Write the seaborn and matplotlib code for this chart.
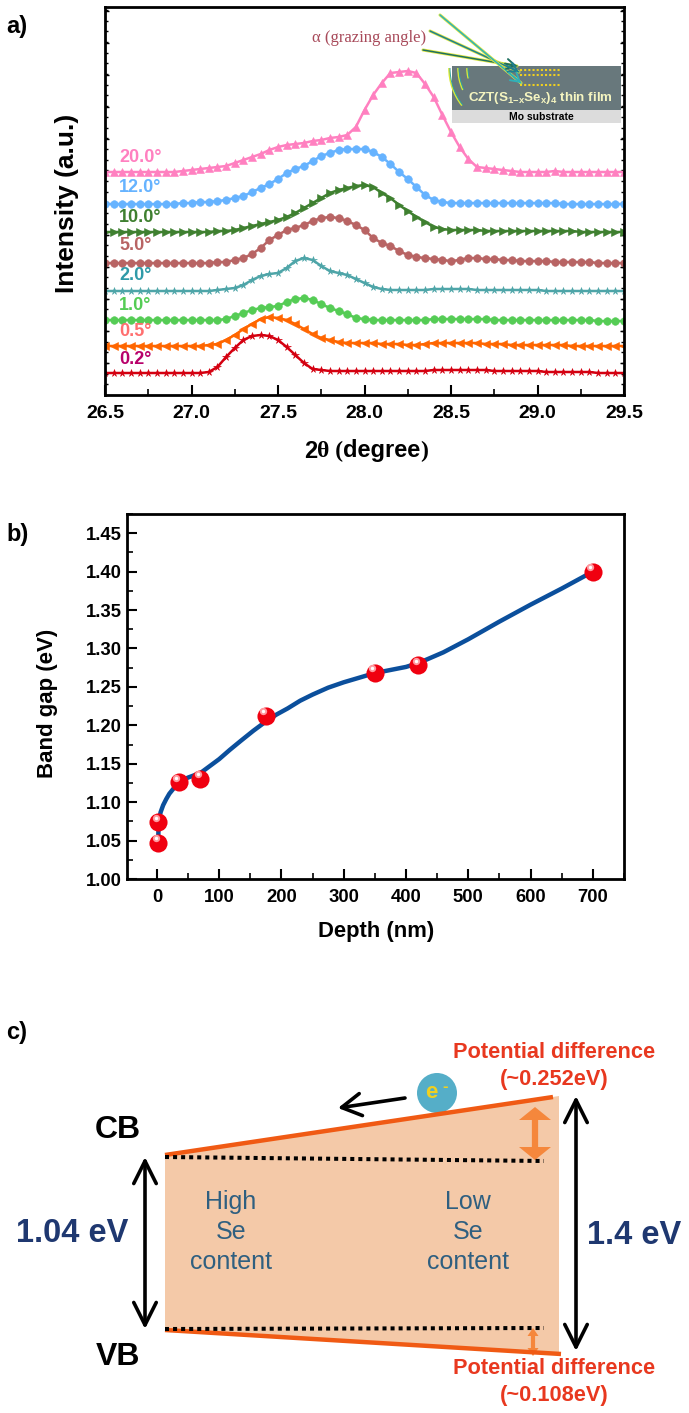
import matplotlib
matplotlib.use('Agg')
import matplotlib.pyplot as plt
from matplotlib.patches import Polygon, Rectangle, Ellipse, Arc
from matplotlib.ticker import MultipleLocator, NullFormatter
import numpy as np
import pandas as pd
import seaborn as sns

two_theta = [26.5 + 0.05 * i for i in range(61)]

i_20 = [223,223,223,223,223,223,223,223,223,224,225,226,227,228,229,232,235,238,241,245,248,250,251,252,254,255,257,258,260,268,
        285,300,312,322,323,324,322,311,298,280,263,248,236,228,227,226,225,224,223,223,223,223,224,223,223,223,223,223,223,223,223]
i_12 = [191,191,191,191,191,191,191,191,191,192,192,193,193,194,195,197,199,203,207,211,216,222,226,229,234,239,242,245,246,246,
        246,243,238,231,223,216,208,200,195,193,192,192,192,192,192,192,192,192,192,192,192,192,192,191,191,191,191,191,191,191,191]
i_10 = [163,163,163,163,163,163,163,163,163,163,163,163,163,164,164,165,167,169,171,173,175,178,182,187,192,197,202,205,207,209,
        210,208,202,197,190,184,178,173,168,166,165,165,165,165,164,164,164,164,164,164,164,164,164,164,164,163,163,163,163,163,163]
i_5 = [132,132,132,132,132,132,132,132,132,132,132,132,132,133,133,135,137,141,147,155,160,165,167,170,174,177,178,177,174,170,
       165,157,152,149,144,140,138,137,136,135,134,135,137,137,136,136,135,135,134,134,134,134,133,133,133,133,133,132,132,132,132]
i_2 = [104,104,104,104,104,104,104,104,104,104,104,104,104,105,106,107,110,115,119,121,122,127,134,137,135,129,124,122,120,116,
       112,108,106,105,105,105,105,105,106,106,106,106,106,105,105,105,105,105,105,105,105,104,104,104,104,104,104,104,104,104,104]
i_1 = [75,75,75,75,75,75,75,75,75,75,75,75,75,75,76,79,82,85,87,88,89,93,96,97,95,91,87,84,81,77,
       76,75,75,75,75,75,75,75,76,76,76,76,76,76,76,75,75,75,75,75,75,75,75,75,75,75,75,74,74,74,74]
i_05 = [49,49,49,49,49,49,49,49,49,49,49,49,50,51,55,60,66,71,76,78,77,75,71,66,61,57,55,53,52,52,
        52,52,51,51,51,50,50,51,52,52,52,52,52,52,51,51,51,50,50,50,50,50,50,50,49,49,49,49,49,49,49]
i_02 = [22,22,22,22,22,22,22,22,22,22,22,22,23,28,38,47,55,59,60,59,55,48,40,32,26,25,24,24,24,24,
        24,24,24,24,24,24,24,24,25,25,25,25,25,25,25,24,24,24,24,24,24,23,23,23,23,23,23,22,22,22,22]

angle_labels = ['20.0', '12.0', '10.0', '5.0', '2.0', '1.0', '0.5', '0.2']
angle_values = [i_20, i_12, i_10, i_5, i_2, i_1, i_05, i_02]
line_colors = ['#ff80c0', '#66b3ff', '#3f8030', '#b86464', '#4ea5a8', '#55cc55', '#ff6600', '#d40010']
label_colors = ['#ff80c0', '#66b3ff', '#3f8030', '#b86464', '#2f9aa8', '#55cc55', '#ff6f6f', '#b8006a']
line_markers = ['^', 'o', '>', 'o', '*', 'o', '<', '*']
label_y = [157, 188, 218, 246, 275, 306, 332, 360]

depth = [2, 3, 6, 10, 15, 20, 27, 35, 42, 50, 60, 70, 85, 100, 117, 135, 155, 175, 192, 210, 230, 250, 275, 300,
         325, 350, 375, 400, 420, 440, 460, 500, 550, 600, 650, 700]
gap_curve = [1.05, 1.075, 1.087, 1.096, 1.104, 1.111, 1.118, 1.124, 1.129, 1.132, 1.135, 1.138, 1.147, 1.156,
             1.168, 1.18, 1.193, 1.205, 1.214, 1.222, 1.232, 1.24, 1.249, 1.256, 1.262, 1.268, 1.272, 1.276,
             1.281, 1.288, 1.295, 1.312, 1.335, 1.357, 1.378, 1.40]
depth_pts = [2, 2, 35, 70, 175, 350, 420, 700]
gap_pts = [1.047, 1.074, 1.126, 1.130, 1.212, 1.268, 1.278, 1.400]

W, H = 689, 1413


def axes_px(fig, left, top, right, bottom):
    return fig.add_axes([left / W, 1 - bottom / H, (right - left) / W, (bottom - top) / H])


def style_axes(ax):
    for s in ax.spines.values():
        s.set_linewidth(2)
        s.set_color('black')
    ax.tick_params(which='major', direction='in', length=7, width=1.5, labelsize=14)
    ax.tick_params(which='minor', direction='in', length=4, width=1.2)
    for t in ax.get_xticklabels() + ax.get_yticklabels():
        t.set_fontweight('bold')


sns.set_style('ticks')
plt.rcParams['font.family'] = ['Liberation Sans', 'DejaVu Sans']
plt.rcParams['text.color'] = 'black'
plt.rcParams['axes.labelcolor'] = 'black'
plt.rcParams['xtick.color'] = 'black'
plt.rcParams['ytick.color'] = 'black'
plt.rcParams['mathtext.fontset'] = 'custom'
plt.rcParams['mathtext.rm'] = 'Liberation Sans:bold'
plt.rcParams['mathtext.bf'] = 'Liberation Sans:bold'

fig = plt.figure(figsize=(W / 100, H / 100), dpi=100)

# a) XRD patterns
ax_a = axes_px(fig, 105, 7, 624, 395)
for name, vals, c, m in zip(angle_labels, angle_values, line_colors, line_markers):
    df = pd.DataFrame({'x': two_theta, 'y': vals})
    sns.lineplot(x='x', y='y', data=df, ax=ax_a, color=c, linewidth=1.8, marker=m,
                 markersize=5.5, markeredgecolor=c, markeredgewidth=0.4)
ax_a.set_xlim(26.5, 29.5)
ax_a.set_ylim(0, 388)
ax_a.xaxis.set_major_locator(MultipleLocator(0.5))
ax_a.xaxis.set_minor_locator(MultipleLocator(0.25))
ax_a.yaxis.set_major_locator(MultipleLocator(32))
ax_a.yaxis.set_minor_locator(MultipleLocator(10.7))
ax_a.yaxis.set_major_formatter(NullFormatter())
ax_a.set_xlabel('')
ax_a.set_ylabel('')
style_axes(ax_a)
ax_a.tick_params(axis='y', which='major', length=3, width=1, right=True)
ax_a.tick_params(axis='y', which='minor', length=2, width=1, right=True)
ax_a.tick_params(axis='x', pad=7)

# b) band gap
ax_b = axes_px(fig, 127, 514, 624, 879)
sns.lineplot(x=depth, y=gap_curve, ax=ax_b, color='#0b4f9c', linewidth=3.2, sort=False, zorder=2)
sns.scatterplot(x=depth_pts, y=gap_pts, ax=ax_b, color='#f00010', s=170, linewidth=0, zorder=3)
ax_b.scatter(np.array(depth_pts) - 4, np.array(gap_pts) + 0.006, s=28, color='#ff9aa0', linewidth=0, zorder=4)
ax_b.scatter(np.array(depth_pts) - 4, np.array(gap_pts) + 0.006, s=6, color='white', linewidth=0, zorder=5)
ax_b.set_xlim(-48, 750)
ax_b.set_ylim(1.0, 1.475)
ax_b.xaxis.set_major_locator(MultipleLocator(100))
ax_b.xaxis.set_minor_locator(MultipleLocator(50))
ax_b.yaxis.set_major_locator(MultipleLocator(0.05))
ax_b.yaxis.set_minor_locator(MultipleLocator(0.025))
ax_b.yaxis.set_major_formatter(lambda v, p: f'{v:.2f}')
ax_b.set_xlabel('')
ax_b.set_ylabel('')
style_axes(ax_b)
ax_b.tick_params(labelsize=13.3)
ax_b.tick_params(axis='x', pad=7)

# overlay for the schematic bits, works in image pixels
ov = fig.add_axes([0, 0, 1, 1], zorder=10)
ov.set_xlim(0, W)
ov.set_ylim(H, 0)
ov.axis('off')
ov.patch.set_alpha(0)

ov.text(6, 26, 'a)', fontsize=17, fontweight='bold', va='center')
ov.text(6, 535, 'b)', fontsize=17, fontweight='bold', va='center')
ov.text(6, 1033, 'c)', fontsize=17, fontweight='bold', va='center')

ov.text(67, 203, 'Intensity (a.u.)', fontsize=19, fontweight='bold', rotation=90, ha='center', va='center')
t1 = ov.text(304, 451, '2', fontsize=17, fontweight='bold', va='center')
t2 = ov.annotate('\u03b8 (', xy=(1, 0), xycoords=t1, fontsize=17, family='Liberation Serif', fontweight='bold', va='bottom')
t3 = ov.annotate('degree', xy=(1, 0), xycoords=t2, fontsize=17, fontweight='bold', va='bottom')
ov.annotate(')', xy=(1, 0), xycoords=t3, fontsize=17, family='Liberation Serif', fontweight='bold', va='bottom')
ov.text(48, 703, 'Band gap (eV)', fontsize=16, fontweight='bold', rotation=90, ha='center', va='center')
ov.text(376, 932, 'Depth (nm)', fontsize=15.8, fontweight='bold', ha='center', va='center')

for name, y, c in zip(angle_labels, label_y, label_colors):
    ov.text(119, y, name + '\u00b0', color=c, fontsize=13, fontweight='bold', va='center')

# inset of panel a
ov.text(369, 38, '\u03b1 (grazing angle)', family='Liberation Serif', color='#a84a5a', fontsize=12, ha='center', va='center')
ov.add_patch(Rectangle((452, 66), 169, 44, color='#68787c', lw=0))
ov.add_patch(Rectangle((452, 110), 169, 13, color='#dcdcdc', lw=0))
ov.text(540, 98, r'CZT(S$_{\mathrm{1{-}x}}$Se$_{\mathrm{x}}$)$_{\mathrm{4}}$ thin film', color='#f5f5c0',
        fontsize=9.6, fontweight='bold', ha='center', va='center')
ov.text(541, 117, 'Mo substrate', color='black', fontsize=7.5, fontweight='bold', ha='center', va='center')
for yy in [70, 75, 85]:
    ov.plot([520, 561], [yy, yy], color='#f0d020', lw=1.5, ls=(0, (1, 1)))
for wd, a0 in [(122, 142), (104, 155), (86, 166)]:
    ov.add_patch(Arc((510, 68), wd, wd, theta1=a0, theta2=180, color='#d8e838', lw=1.2))
    ov.add_patch(Arc((510, 68), wd - 2, wd - 2, theta1=a0, theta2=180, color='#30a0a0', lw=0.7))
for bx, by, ex, ey, core in [(423, 50, 517, 66, '#1f6f60'), (430, 31, 519, 72, '#1f7f90'), (440, 15, 521, 83, '#30b0b8')]:
    ov.plot([bx, ex], [by, ey], color='#e0e840', lw=2.2)
    ov.plot([bx, ex], [by, ey], color=core, lw=1.1)
    ov.annotate('', xy=(ex, ey), xytext=(ex - 12, ey - 0.15 * (ex - bx) * (ey - by) / (ex - bx)),
                arrowprops=dict(arrowstyle='->,head_length=0.5,head_width=0.3', color=core, lw=1.4, mutation_scale=12, shrinkA=0, shrinkB=0))

# c) band diagram
ov.add_patch(Polygon([(165, 1156), (559, 1096), (559, 1353), (165, 1330)], color='#f4c9a8', lw=0))
ov.plot([165, 553], [1155, 1097], color='#f05a14', lw=3.2, solid_capstyle='butt')
ov.plot([165, 561], [1330, 1354], color='#f05a14', lw=3.2, solid_capstyle='butt')
ov.plot([165, 544], [1157, 1161], color='black', lw=2.9, ls=(0, (1, 1)))
ov.plot([165, 544], [1329, 1328], color='black', lw=2.9, ls=(0, (1, 1)))


def dbl_arrow(x, y0, y1):
    ov.annotate('', xy=(x, y0), xytext=(x, y1),
                arrowprops=dict(arrowstyle='<->,head_length=0.9,head_width=0.45', color='black', lw=2.6,
                                mutation_scale=18, shrinkA=0, shrinkB=0))


def fat_arrow(x, y0, y1, head_w, head_l, lw):
    ov.plot([x, x], [y0 + head_l, y1 - head_l], color='#f5873c', lw=lw, solid_capstyle='butt')
    ov.add_patch(Polygon([(x, y0), (x - head_w / 2, y0 + head_l), (x + head_w / 2, y0 + head_l)], color='#f5873c', lw=0))
    ov.add_patch(Polygon([(x, y1), (x - head_w / 2, y1 - head_l), (x + head_w / 2, y1 - head_l)], color='#f5873c', lw=0))


dbl_arrow(145, 1157, 1329)
dbl_arrow(576, 1096, 1351)
ov.annotate('', xy=(338, 1108), xytext=(405, 1098),
            arrowprops=dict(arrowstyle='->,head_length=0.7,head_width=0.4', color='black', lw=2.6,
                            mutation_scale=20, shrinkA=0, shrinkB=0))
fat_arrow(535, 1107, 1160, 32, 13, 4.5)
fat_arrow(533, 1328, 1356, 11, 8, 3)

ov.add_patch(Ellipse((437, 1093), 40, 40, color='#55aec8', lw=0))
ov.text(431, 1093, 'e', color='#f0d020', fontsize=16, fontweight='bold', ha='center', va='center')
ov.text(445, 1087, '-', color='#f0d020', fontsize=12, fontweight='bold', ha='center', va='center')

ov.text(118, 1130, 'CB', fontsize=23, fontweight='bold', ha='center', va='center')
ov.text(118, 1357, 'VB', fontsize=23, fontweight='bold', ha='center', va='center')
ov.text(72, 1233, '1.04 eV', fontsize=23.5, fontweight='bold', color='#1f3870', ha='center', va='center')
ov.text(634, 1236, '1.4 eV', fontsize=23.5, fontweight='bold', color='#1f3870', ha='center', va='center')
for xx, words in [(231, ['High', 'Se', 'content']), (468, ['Low', 'Se', 'content'])]:
    for yy, w in zip([1202, 1232, 1262], words):
        ov.text(xx, yy, w, fontsize=18, color='#2f5f80', ha='center', va='center')
for yy, s in [(1052, 'Potential difference'), (1079, '(~0.252eV)'), (1368, 'Potential difference'), (1395, '(~0.108eV)')]:
    ov.text(554, yy, s, fontsize=15.7, fontweight='bold', color='#e8381f', ha='center', va='center')

fig.savefig('out.png', dpi=100)
